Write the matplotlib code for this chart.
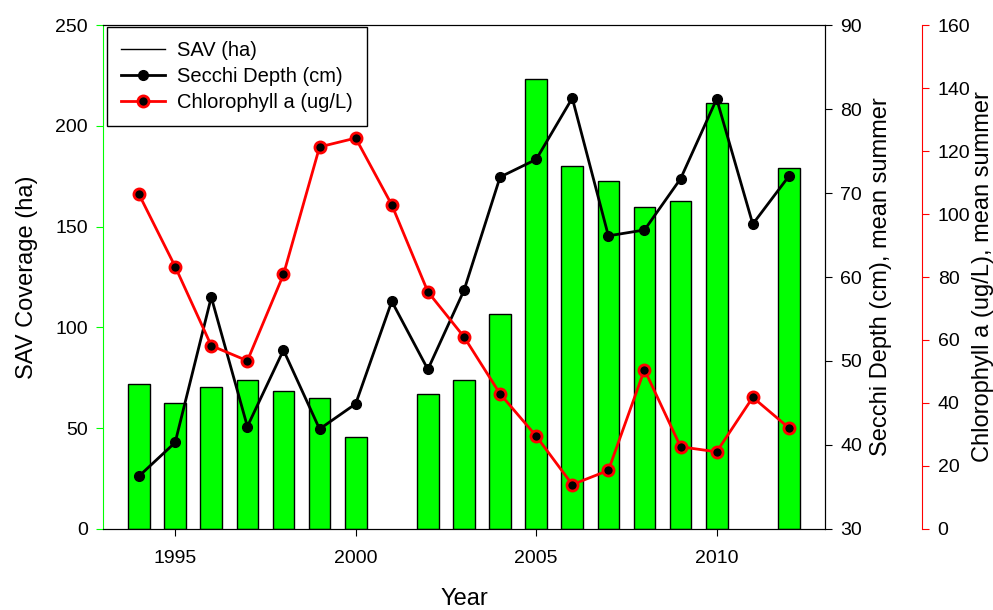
import matplotlib
matplotlib.use('Agg')
import matplotlib.pyplot as plt
from matplotlib.lines import Line2D

plt.rcParams['font.family'] = 'Liberation Sans'
plt.rcParams['font.size'] = 14

years = [1994, 1995, 1996, 1997, 1998, 1999, 2000, 2001, 2002, 2003,
         2004, 2005, 2006, 2007, 2008, 2009, 2010, 2011, 2012]
# SAV coverage (ha), None = no survey
sav = [72, 62.7, 70.3, 74, 68.5, 64.8, 45.8, None, 67, 73.9,
       106.6, 223.2, 180.1, 172.5, 159.7, 162.5, 211.5, None, 179.1]
secchi = [36.3, 40.3, 57.6, 42.2, 51.3, 41.9, 44.9, 57.1, 49.0, 58.4,
          71.9, 74.0, 81.3, 64.9, 65.6, 71.7, 81.2, 66.3, 72.0]
chla = [106.2, 83.3, 58.2, 53.4, 80.8, 121.3, 124.1, 102.9, 75.3, 61.0,
        42.9, 29.5, 14.1, 18.6, 50.6, 26.1, 24.5, 41.8, 32.1]

sav_years = [y for y, v in zip(years, sav) if v is not None]
sav_vals = [v for v in sav if v is not None]

fig = plt.figure(figsize=(9.93, 6.1), dpi=100)
ax = fig.add_axes([0.1037, 0.1328, 0.7271, 0.8262])
ax.bar(sav_years, sav_vals, width=0.6, color='#00ff00', edgecolor='black', linewidth=1, zorder=2)
ax.set_xlim(1993, 2013)
ax.set_ylim(0, 250)
ax.set_xticks([1995, 2000, 2005, 2010])
ax.set_yticks([0, 50, 100, 150, 200, 250])
ax.set_xlabel('Year', fontsize=17, labelpad=15)
ax.set_ylabel('SAV Coverage (ha)', fontsize=17, labelpad=12)
ax.spines['left'].set_color('#00ff00')
ax.tick_params(axis='y', colors='#00ff00', labelcolor='black', direction='out', length=5, pad=6)
ax.tick_params(axis='x', direction='out', length=5, pad=10)

ax2 = ax.twinx()
ax2.plot(years, secchi, color='black', linewidth=2, marker='o', markersize=7, zorder=3)
ax2.set_ylim(30, 90)
ax2.set_yticks([30, 40, 50, 60, 70, 80, 90])
ax2.set_ylabel('Secchi Depth (cm), mean summer', fontsize=17, labelpad=6)
ax2.tick_params(axis='y', direction='out', length=5, pad=6)
ax2.spines['left'].set_visible(False)

ax3 = ax.twinx()
ax3.spines['right'].set_position(('axes', 1.135))
ax3.spines['right'].set_color('red')
for s in ['left', 'top', 'bottom']:
    ax3.spines[s].set_visible(False)
ax3.plot(years, chla, color='red', linewidth=2, marker='o', markersize=8,
         markerfacecolor='black', markeredgecolor='red', markeredgewidth=2, zorder=4)
ax3.set_ylim(0, 160)
ax3.set_yticks([0, 20, 40, 60, 80, 100, 120, 140, 160])
ax3.set_ylabel('Chlorophyll a (ug/L), mean summer', fontsize=17, labelpad=1)
ax3.tick_params(axis='y', colors='red', labelcolor='black', direction='out', length=5, pad=6)

handles = [
    Line2D([], [], color='black', linewidth=1),
    Line2D([], [], color='black', linewidth=2, marker='o', markersize=7),
    Line2D([], [], color='red', linewidth=2, marker='o', markersize=8,
           markerfacecolor='black', markeredgecolor='red', markeredgewidth=2),
]
labels = ['SAV (ha)', 'Secchi Depth (cm)', 'Chlorophyll a (ug/L)']
leg = ax3.legend(handles, labels, loc='upper left', bbox_to_anchor=(0.005, 0.997),
                 borderaxespad=0, fancybox=False, edgecolor='black', framealpha=1,
                 fontsize=14.5, handlelength=2.2, handletextpad=0.6,
                 labelspacing=0.35, borderpad=0.7)
leg.get_frame().set_linewidth(1)

fig.savefig('out.png', dpi=100)
